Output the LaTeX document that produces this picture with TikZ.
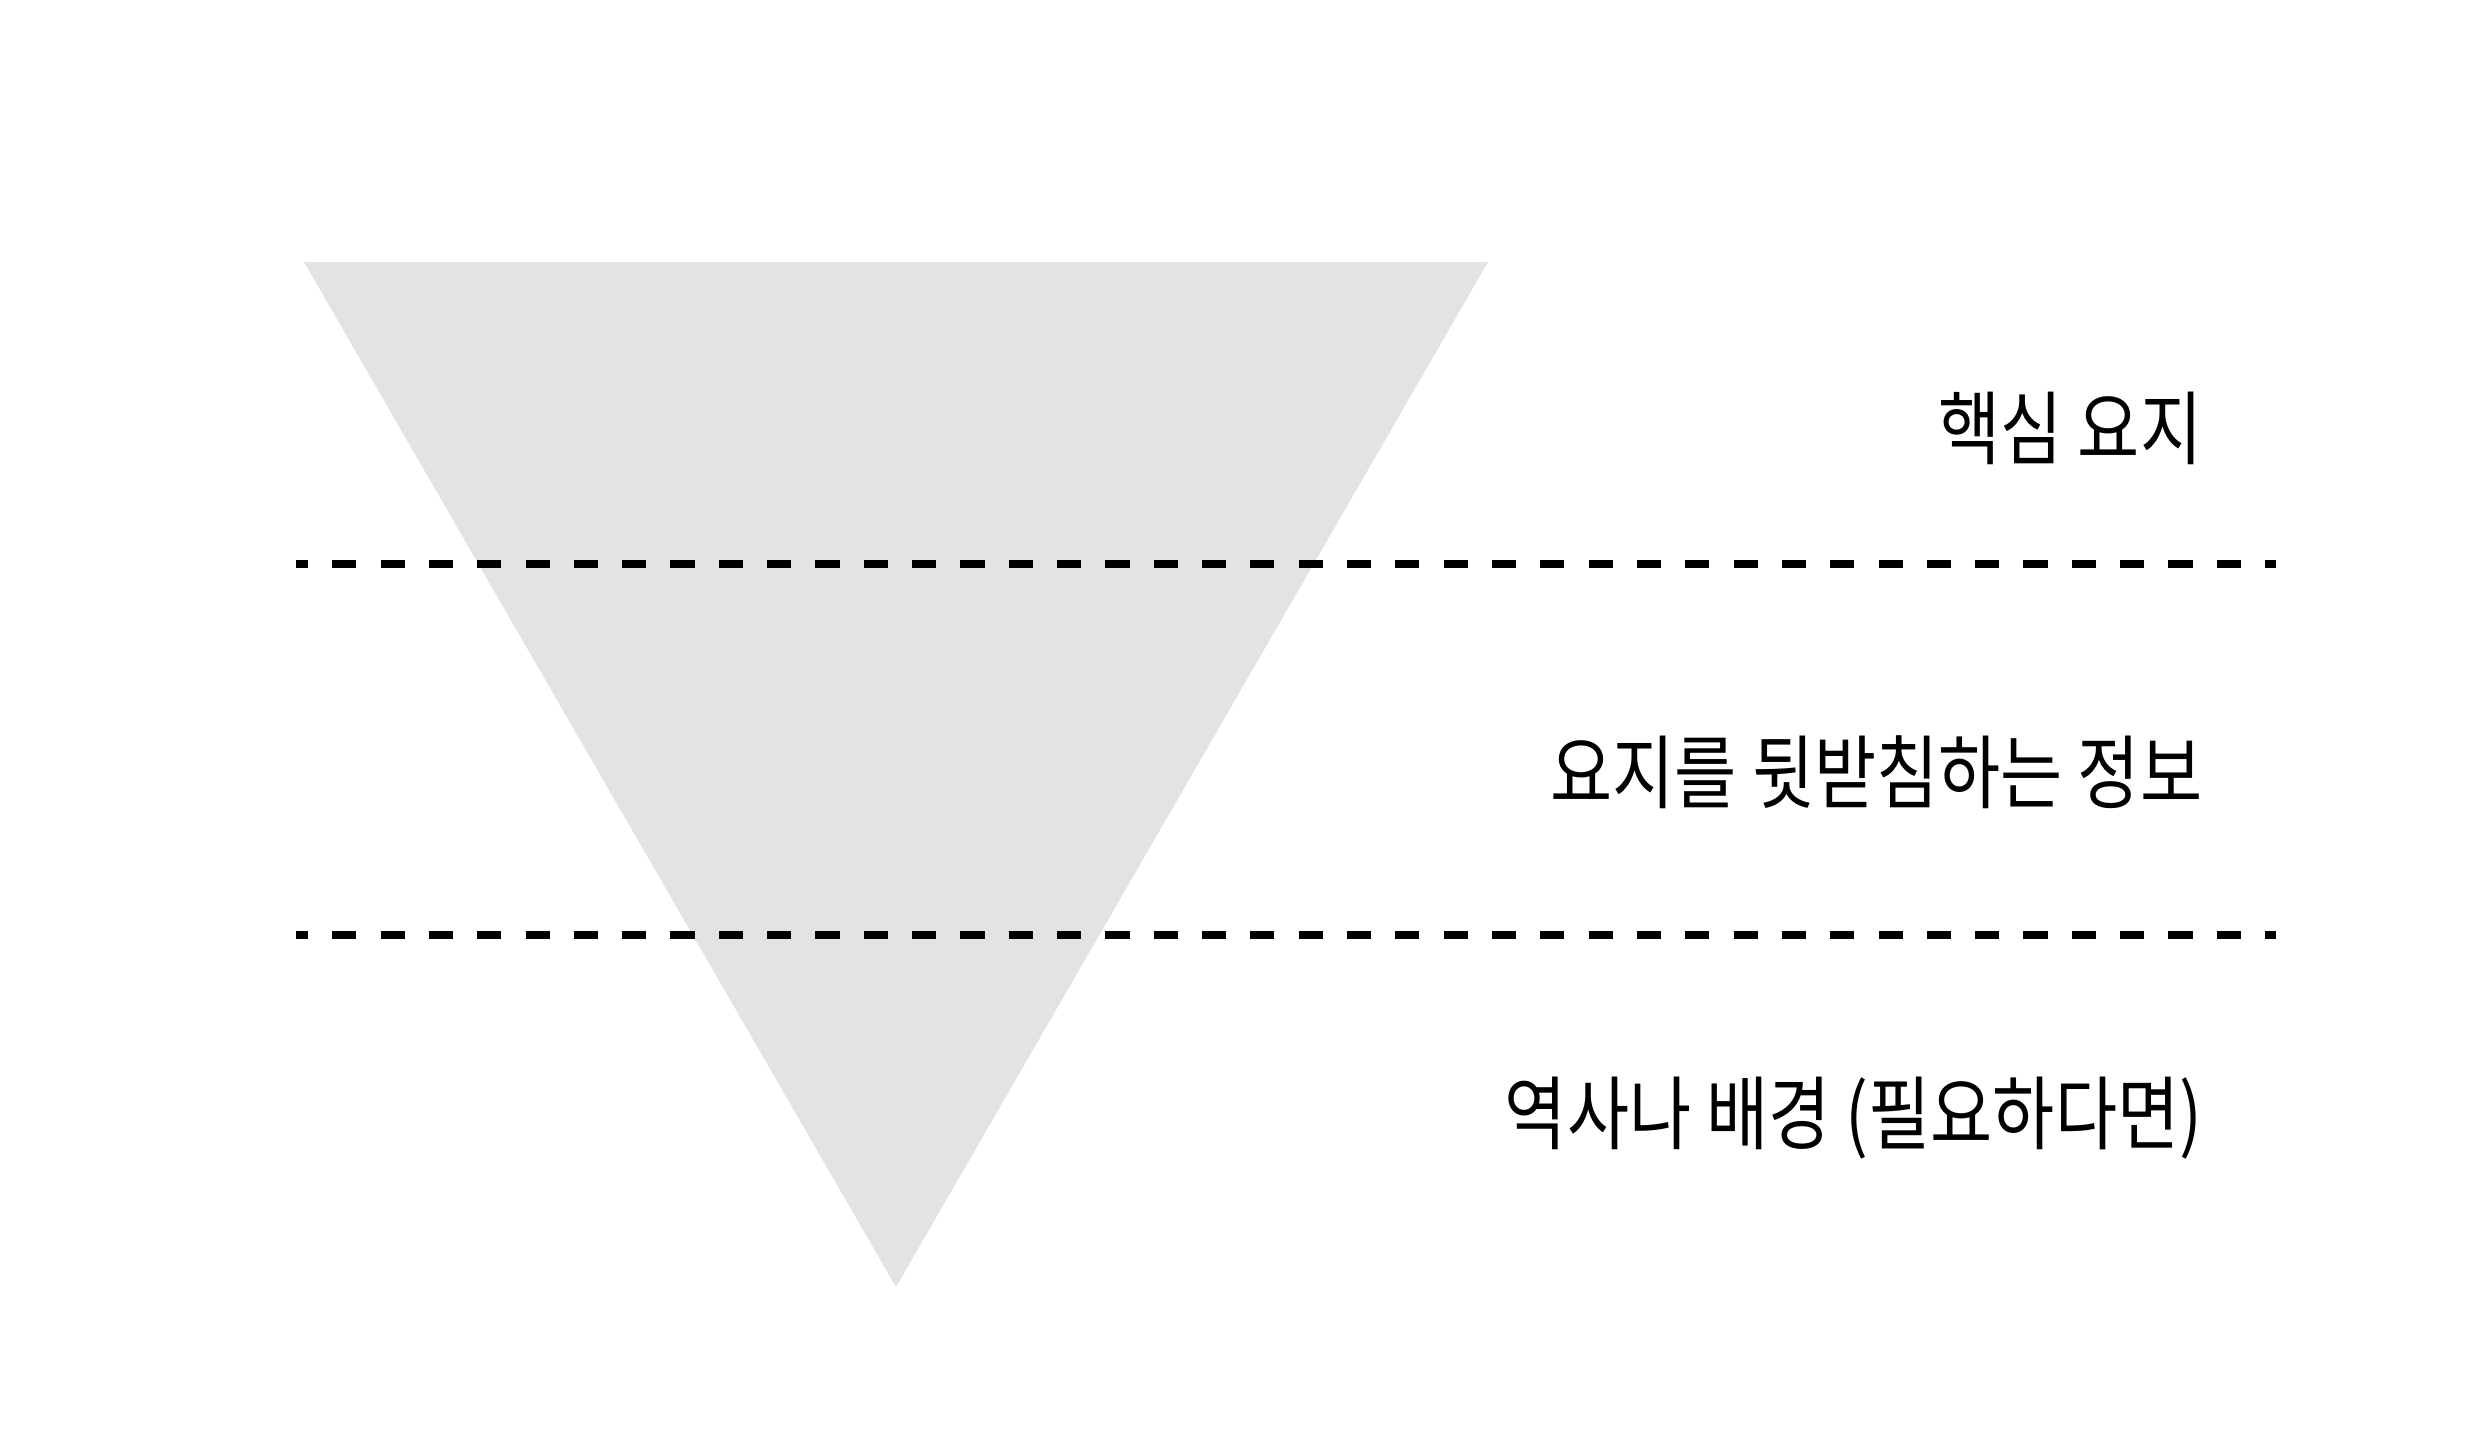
\documentclass[tikz,border=0pt]{standalone}
\usepackage{fontspec}
\newfontfamily\krfont[FakeStretch=0.84]{Noto Sans CJK KR}
\definecolor{trifill}{RGB}{227,227,227}
\begin{document}
\begin{tikzpicture}[x=0.25pt,y=-0.25pt,
  sep/.style={line width=1.8pt, dash pattern=on 6.04pt off 6.04pt, dash phase=3.02pt},
  lab/.style={anchor=east, inner sep=0pt, font=\krfont\fontsize{20.1pt}{24pt}\selectfont}]
\useasboundingbox (0,0) rectangle (2484,1448);
\coordinate (tl) at (304,262);
\coordinate (tr) at (1488,262);
\coordinate (bt) at (896,1287);
\fill[trifill] (tl) -- (tr) -- (bt) -- cycle;
\coordinate (l1a) at (296,564);
\coordinate (l1b) at (2276,564);
\coordinate (l2a) at (296,935);
\coordinate (l2b) at (2276,935);
\draw[sep] (l1a) -- (l1b);
\draw[sep] (l2a) -- (l2b);
\node[lab] (t1) at (2203,428) {핵심 요지};
\node[lab] (t2) at (2203,772) {요지를 뒷받침하는 정보};
\node[lab] (t3) at (2203,1118) {역사나 배경 (필요하다면)};
\end{tikzpicture}
\end{document}
